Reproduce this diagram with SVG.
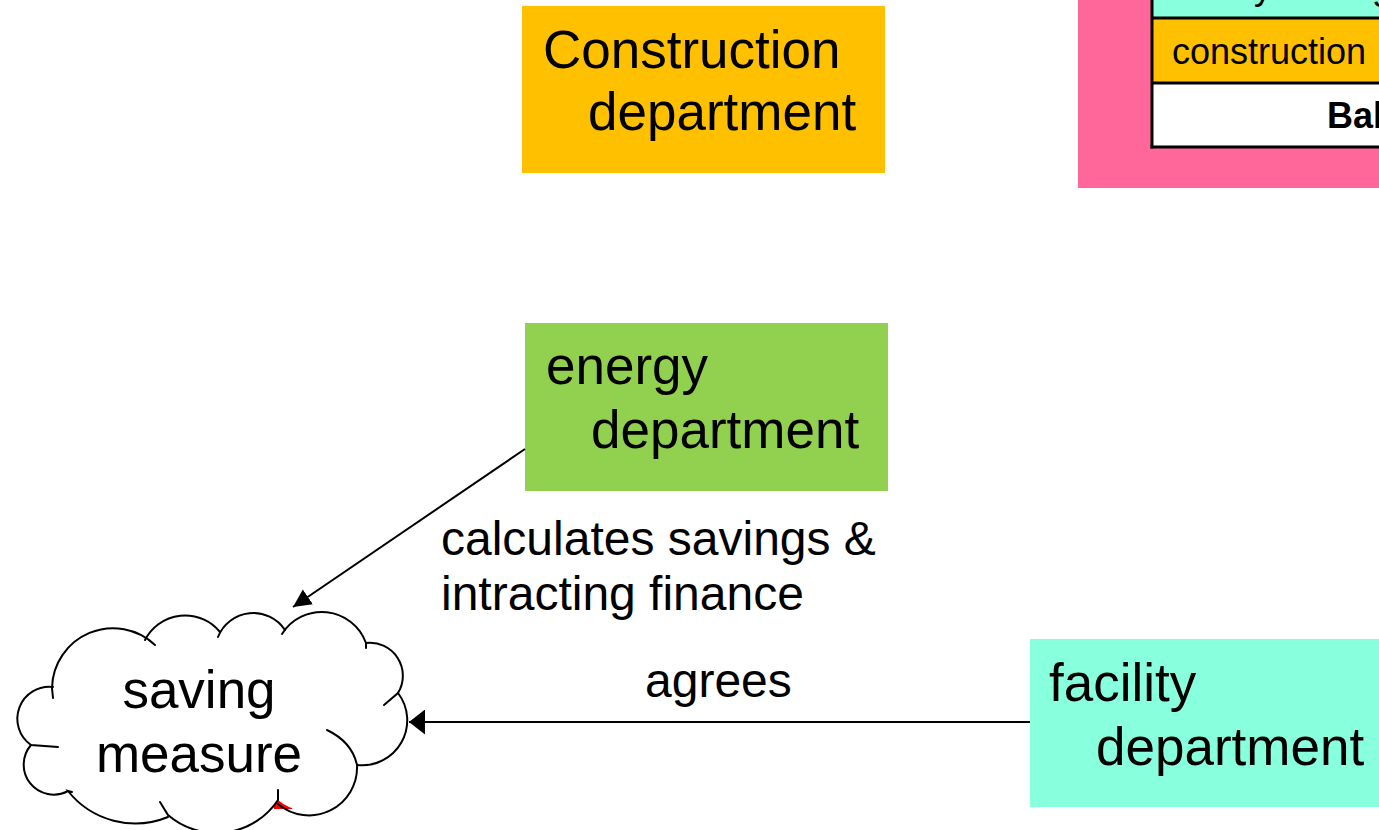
<svg xmlns="http://www.w3.org/2000/svg" width="1379" height="830" viewBox="0 0 1379 830">
  <style>
    .t { font-family: "Liberation Sans", Arial, sans-serif; fill: #000; }
    .big { font-size: 53px; }
    .lbl { font-size: 48px; }
    .tbl { font-size: 36px; }
    .cl { fill: none; stroke: #000; stroke-width: 2; stroke-linecap: round; }
    .conn { stroke: #000; stroke-width: 2; fill: none; }
    .row { stroke: #000; stroke-width: 3; }
  </style>
  <defs>
    <marker id="ah1" markerUnits="userSpaceOnUse" markerWidth="17" markerHeight="25" viewBox="0 0 17 25" refX="16" refY="12.5" orient="auto">
      <path d="M0,0 L16,12.5 L0,25 z" fill="#000"/>
    </marker>
    <marker id="ah2" markerUnits="userSpaceOnUse" markerWidth="19" markerHeight="20" viewBox="0 0 19 20" refX="18" refY="10" orient="auto">
      <path d="M0,1 L18,10 L0,19 z" fill="#000"/>
    </marker>
  </defs>

  <rect width="1379" height="830" fill="#fff"/>

  <g id="panel">
    <rect x="1078" y="-5" width="310" height="193" fill="#FF6699"/>
    <rect x="1152" y="-5" width="240" height="23" fill="#88FFDD"/>
    <rect x="1152" y="18" width="240" height="65" fill="#FFC000"/>
    <rect x="1152" y="83" width="240" height="64" fill="#fff"/>
    <line class="row" x1="1152" y1="-5" x2="1152" y2="148.5"/>
    <line class="row" x1="1152" y1="18" x2="1385" y2="18"/>
    <line class="row" x1="1152" y1="83" x2="1385" y2="83"/>
    <line class="row" x1="1150.5" y1="147" x2="1385" y2="147"/>
    <text class="t tbl" x="1172" y="-1">facility management</text>
    <text class="t tbl" x="1172" y="64">construction</text>
    <text class="t tbl" x="1327" y="128" font-weight="bold">Bal</text>
  </g>

  <g id="construction">
    <rect x="522" y="6" width="363" height="167" fill="#FFC000"/>
    <text class="t big" x="543" y="68">Construction</text>
    <text class="t big" x="588" y="130">department</text>
  </g>

  <g id="energy">
    <rect x="525" y="323" width="363" height="168" fill="#92D050"/>
    <text class="t big" x="546" y="384">energy</text>
    <text class="t big" x="591" y="448">department</text>
  </g>

  <g id="facility">
    <rect x="1030" y="639" width="360" height="168" fill="#88FFDD"/>
    <text class="t big" x="1049" y="701">facility</text>
    <text class="t big" x="1096" y="765">department</text>
  </g>

  <g id="saving">
    <path d="M272,798 L295,803 L292,809 L274,809 z" fill="#FF0000"/>
    <path d="M52,688 A61,61 0 0 1 150,638 A45,45 0 0 1 220,632 A38,38 0 0 1 285,630 A47,47 0 0 1 366,643 A33,33 0 0 1 398,693 A45,45 0 0 1 357,765 A48,48 0 0 1 278,800 A74,74 0 0 1 168,815 A86,86 0 0 1 68,791 A30,30 0 0 1 31,745 A32,32 0 0 1 52,688 z" fill="#fff"/>
    <path class="cl" d="M155,645 A61,61 0 0 0 52,688 L53,698"/>
    <path class="cl" d="M145,640 A45,45 0 0 1 220,632"/>
    <path class="cl" d="M218,637 A38,38 0 0 1 285,630"/>
    <path class="cl" d="M282,634 A47,47 0 0 1 366,643 L366,648"/>
    <path class="cl" d="M366,643 A33,33 0 0 1 398,693 L384,705"/>
    <path class="cl" d="M398,693 A45,45 0 0 1 357,765"/>
    <path class="cl" d="M327,730 Q352,742 357,765 A48,48 0 0 1 278,804"/>
    <path class="cl" d="M278,790 L278,800 A74,74 0 0 1 168,815 L160,802"/>
    <path class="cl" d="M168,817 A86,86 0 0 1 68,791 L72,792"/>
    <path class="cl" d="M68,791 A30,30 0 0 1 31,745"/>
    <path class="cl" d="M58,747 L31,745 A32,32 0 0 1 53,687"/>
    <text class="t big" x="199" y="708" text-anchor="middle">saving</text>
    <text class="t big" x="199" y="772" text-anchor="middle">measure</text>
  </g>

  <g id="connectors">
    <line class="conn" x1="525" y1="449" x2="293" y2="607" marker-end="url(#ah2)"/>
    <line class="conn" x1="1030" y1="722" x2="409" y2="722" marker-end="url(#ah1)"/>
    <text class="t lbl" x="441" y="555">calculates savings &amp;</text>
    <text class="t lbl" x="441" y="610">intracting finance</text>
    <text class="t lbl" x="645" y="697">agrees</text>
  </g>
</svg>
